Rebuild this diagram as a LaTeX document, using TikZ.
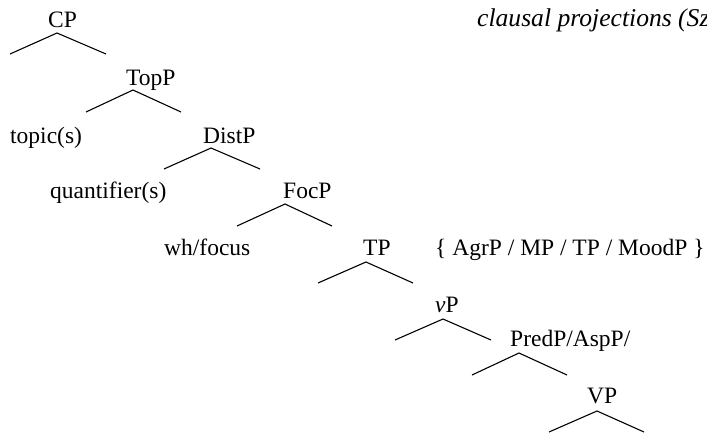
\documentclass[tikz,border=0pt]{standalone}
\usepackage{fontspec}
\setmainfont{Liberation Serif}
\begin{document}
\begin{tikzpicture}[x=1pt,y=-1pt,
  lbl/.style={anchor=base west,inner sep=0pt,font=\fontsize{23.5}{28}\selectfont},
  note/.style={anchor=base west,inner sep=0pt,font=\fontsize{25.6}{30}\selectfont\itshape},
  branch/.style={line width=1.1pt,line join=miter}]
\useasboundingbox (0,0) rectangle (707,434);

% category labels
\node[lbl] (cp)    at (48,27)   {CP};
\node[lbl] (topp)  at (126,85)  {TopP};
\node[lbl] (topic) at (10,143)  {topic(s)};
\node[lbl] (distp) at (203,143) {DistP};
\node[lbl] (quant) at (50,198)  {quantifier(s)};
\node[lbl] (focp)  at (283,198) {FocP};
\node[lbl] (wh)    at (164,255) {wh/focus};
\node[lbl] (tp)    at (363,255) {TP};
\node[lbl] (alt)   at (435,255) {\{ AgrP / MP / TP / MoodP \}};
\node[lbl] (vp)    at (435,312) {\textit{v}P};
\node[lbl] (predp) at (510,346) {PredP/AspP/};
\node[lbl] (VP)    at (587,403) {VP};
\node[note] (title) at (477,26) {clausal projections (Sz};

% branching points: apex, left foot, right foot
\coordinate (cpA)  at (57,33);  \coordinate (cpL)  at (10,54);  \coordinate (cpR)  at (106,54);
\coordinate (topA) at (133,90); \coordinate (topL) at (86,112); \coordinate (topR) at (181,112);
\coordinate (disA) at (211,148);\coordinate (disL) at (164,169);\coordinate (disR) at (260,169);
\coordinate (focA) at (285,204);\coordinate (focL) at (237,226);\coordinate (focR) at (332,226);
\coordinate (tpA)  at (366,262);\coordinate (tpL)  at (318,283);\coordinate (tpR)  at (413,283);
\coordinate (vA)   at (443,319);\coordinate (vL)   at (395,340);\coordinate (vR)   at (491,340);
\coordinate (prA)  at (519,353);\coordinate (prL)  at (472,375);\coordinate (prR)  at (567,375);
\coordinate (VA)   at (597,411);\coordinate (VL)   at (549,432);\coordinate (VR)   at (644,432);

\foreach \b in {cp,top,dis,foc,tp,v,pr,V}
  \draw[branch] (\b L) -- (\b A) -- (\b R);
\end{tikzpicture}
\end{document}
